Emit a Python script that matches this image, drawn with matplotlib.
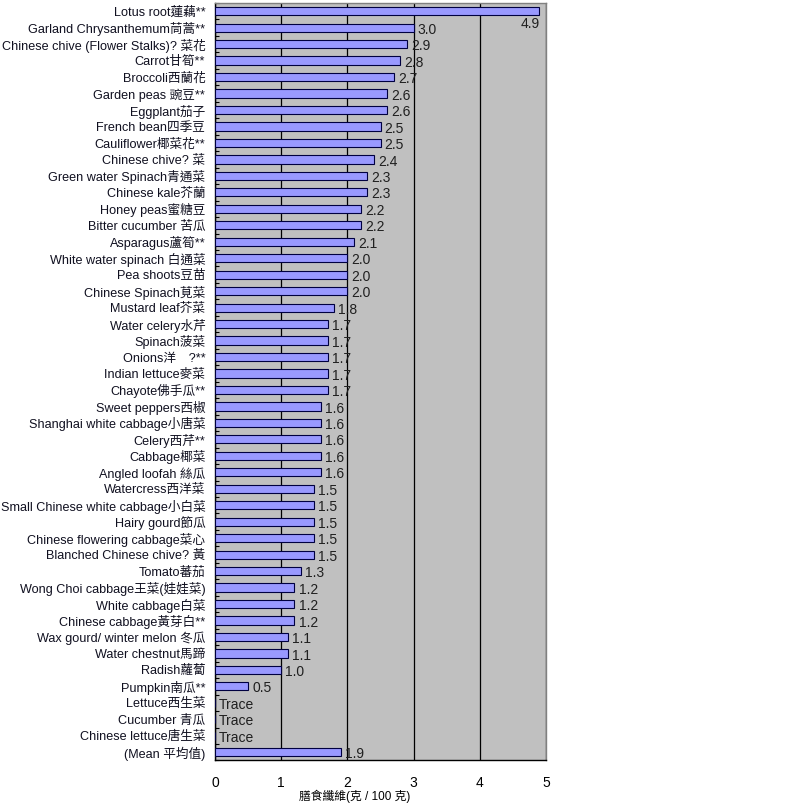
import matplotlib
matplotlib.use("Agg")
import matplotlib.pyplot as plt
import numpy as np

plt.rcParams['font.family'] = ['Liberation Sans', 'Noto Sans CJK TC', 'DejaVu Sans']

categories = [
    "Lotus root蓮藕**", "Garland Chrysanthemum茼蒿**", "Chinese chive (Flower Stalks)? 菜花",
    "Carrot甘筍**", "Broccoli西蘭花", "Garden peas 豌豆**", "Eggplant茄子", "French bean四季豆",
    "Cauliflower椰菜花**", "Chinese chive? 菜", "Green water Spinach青通菜", "Chinese kale芥蘭",
    "Honey peas蜜糖豆", "Bitter cucumber 苦瓜", "Asparagus蘆筍**", "White water spinach 白通菜",
    "Pea shoots豆苗", "Chinese Spinach莧菜", "Mustard leaf芥菜", "Water celery水芹",
    "Spinach菠菜", "Onions洋　?**", "Indian lettuce麥菜", "Chayote佛手瓜**", "Sweet peppers西椒",
    "Shanghai white cabbage小唐菜", "Celery西芹**", "Cabbage椰菜", "Angled loofah 絲瓜",
    "Watercress西洋菜", "Small Chinese white cabbage小白菜", "Hairy gourd節瓜",
    "Chinese flowering cabbage菜心", "Blanched Chinese chive? 黃", "Tomato蕃茄",
    "Wong Choi cabbage王菜(娃娃菜)", "White cabbage白菜", "Chinese cabbage黃芽白**",
    "Wax gourd/ winter melon 冬瓜", "Water chestnut馬蹄", "Radish蘿蔔", "Pumpkin南瓜**",
    "Lettuce西生菜", "Cucumber 青瓜", "Chinese lettuce唐生菜", "(Mean 平均值)",
]
values = [4.9, 3.0, 2.9, 2.8, 2.7, 2.6, 2.6, 2.5, 2.5, 2.4, 2.3, 2.3, 2.2, 2.2, 2.1,
          2.0, 2.0, 2.0, 1.8, 1.7, 1.7, 1.7, 1.7, 1.7, 1.6, 1.6, 1.6, 1.6, 1.6,
          1.5, 1.5, 1.5, 1.5, 1.5, 1.3, 1.2, 1.2, 1.2, 1.1, 1.1, 1.0, 0.5,
          0.0, 0.0, 0.0, 1.9]
value_labels = ["4.9", "3.0", "2.9", "2.8", "2.7", "2.6", "2.6", "2.5", "2.5", "2.4", "2.3",
                "2.3", "2.2", "2.2", "2.1", "2.0", "2.0", "2.0", "1.8", "1.7", "1.7", "1.7",
                "1.7", "1.7", "1.6", "1.6", "1.6", "1.6", "1.6", "1.5", "1.5", "1.5", "1.5",
                "1.5", "1.3", "1.2", "1.2", "1.2", "1.1", "1.1", "1.0", "0.5",
                "Trace", "Trace", "Trace", "1.9"]
x_ticks = [0, 1, 2, 3, 4, 5]
x_label = "膳食纖維(克 / 100 克)"

fig = plt.figure(figsize=(7.87, 8.06), dpi=100)
ax = fig.add_axes([0.2732, 0.0565, 0.4206, 0.9398])
ax.set_facecolor('#C0C0C0')

n = len(categories)
y = np.arange(n)
ax.barh(y, values, height=0.5, color='#9999FF', edgecolor='#000040', linewidth=0.8, zorder=3)

ax.set_xlim(0, 5)
ax.set_ylim(n - 0.5, -0.5)
ax.set_xticks(x_ticks)
ax.set_xticklabels([str(t) for t in x_ticks], fontsize=10)
ax.xaxis.grid(True, color='black', linewidth=0.9, zorder=1)
ax.set_axisbelow(True)
ax.tick_params(axis='x', length=0, pad=11)

ax.set_yticks(y)
ax.set_yticklabels(categories, fontsize=9.1, color='#101020')
ax.tick_params(axis='y', which='major', length=0, pad=7)
ax.set_yticks(np.arange(n + 1) - 0.5, minor=True)
ax.tick_params(axis='y', which='minor', direction='in', length=3, width=0.8, color='black')

for s in ['left', 'bottom']:
    ax.spines[s].set_color('black')
    ax.spines[s].set_linewidth(1.0)
for s in ['top', 'right']:
    ax.spines[s].set_color('#808080')
    ax.spines[s].set_linewidth(1.0)

for yi, v, lab in zip(y, values, value_labels):
    if v > 4.5:
        ax.annotate(lab, (v, yi), xytext=(0, -4), textcoords='offset points',
                    ha='right', va='top', fontsize=10, color='#202020', zorder=4)
    else:
        ax.annotate(lab, (v, yi), xytext=(3, -1.5), textcoords='offset points',
                    ha='left', va='center', fontsize=10, color='#202020', zorder=4)

ax.set_xlabel(x_label, fontsize=8.5)
ax.xaxis.set_label_coords(0.423, -0.038)

fig.savefig("out.png", dpi=100)
